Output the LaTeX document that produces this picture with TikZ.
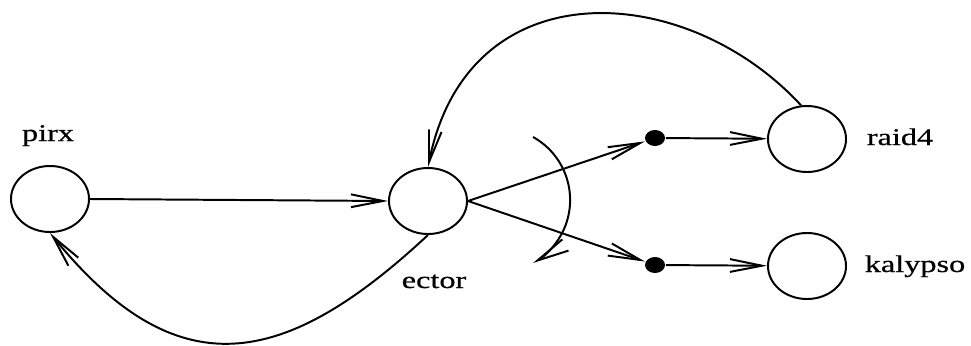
\documentclass[tikz,border=0pt]{standalone}
\usepackage{fontspec}
\usepackage{tikz}
\usetikzlibrary{arrows.meta,shapes.geometric}
\newfontfamily\hostfont{Liberation Serif}[FakeStretch=1.35,FakeBold=0.6]
\tikzset{
  host/.style={draw, ellipse, minimum width=1.95cm, minimum height=1.65cm, inner sep=0pt},
  junct/.style={fill, ellipse, minimum width=0.5cm, minimum height=0.4cm, inner sep=0pt},
  hostname/.style={anchor=base, font=\hostfont\fontsize{17}{20}\selectfont},
  link/.style={-{Straight Barb[length=8mm,width=3.2mm]}}
}

\begin{document}
\begin{tikzpicture}[x=0.025cm, y=0.025cm, line width=1.4pt]
  \useasboundingbox (0,0) rectangle (971,345);

  % hosts and junction points
  \node[host] (pirx) at (50,146) {};
  \node[host] (ector) at (428,144) {};
  \node[host] (raid4) at (807,206) {};
  \node[host] (kalypso) at (807,79) {};
  \node[junct] (upper) at (655,207) {};
  \node[junct] (lower) at (655,80) {};

  % names
  \node[hostname] (pirxname) at (48,204) {pirx};
  \node[hostname] (ectorname) at (434,57) {ector};
  \node[hostname] (raidname) at (900,200) {raid4};
  \node[hostname] (kalypsoname) at (915,73) {kalypso};

  % straight links
  \draw[link] (pirx.east) -- (ector.west);
  \draw[link] (ector.east) -- (upper);
  \draw[link] (ector.east) -- (lower);
  \draw[link] (upper) -- (raid4);
  \draw[link] (lower) -- (kalypso);

  % return links
  \draw[link] (raid4.100) .. controls +(-115,125) and +(40,200) .. (ector.north);
  \draw[link] (ector.south) .. controls +(-146,-136) and +(126,-155) .. (pirx.south);

  % sweep between the two branches
  \coordinate (sweep) at (533,208);
  \draw[link] (sweep) arc[start angle=61, end angle=-61, radius=1.8cm];
\end{tikzpicture}
\end{document}
